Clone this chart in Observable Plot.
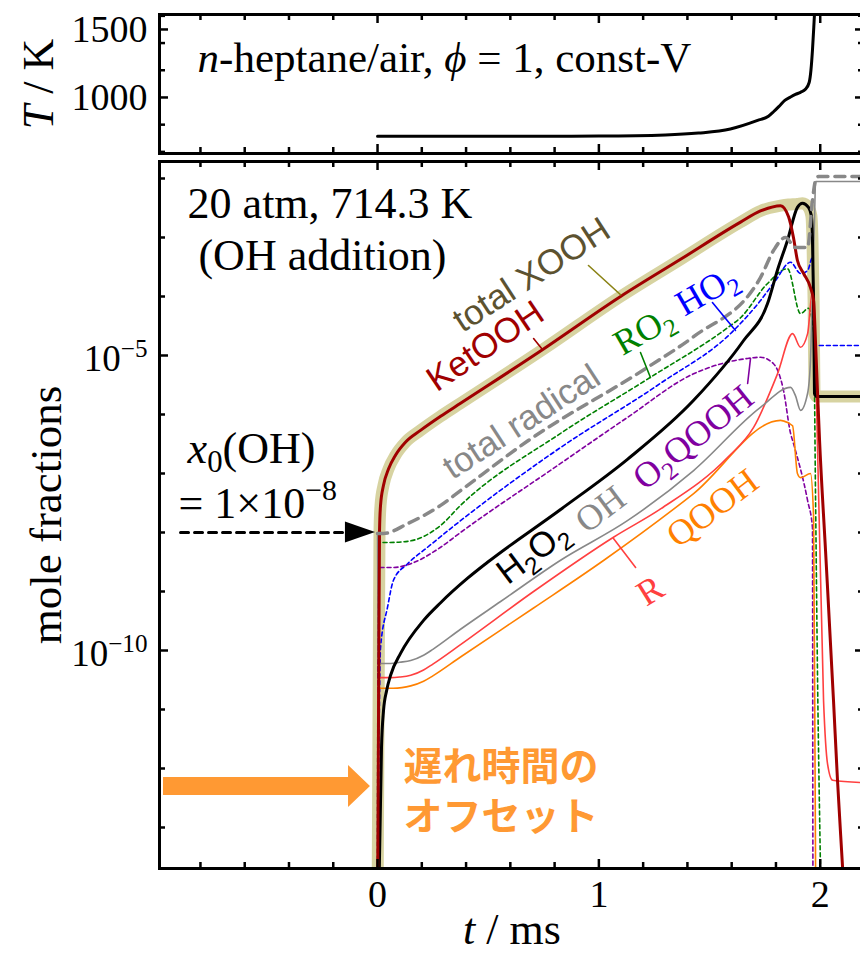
<!DOCTYPE html>
<html><head><meta charset="utf-8">
<script src="https://cdn.jsdelivr.net/npm/d3@7"></script>
<script src="https://cdn.jsdelivr.net/npm/@observablehq/plot@0.6"></script>
<style>
html,body{margin:0;padding:0;background:#fff;overflow:hidden;}
#chart{width:860px;height:953px;overflow:hidden;position:relative;background:#fff;}
#chart svg{display:block;max-width:none !important;}
</style></head><body><div id="chart"></div>
<script>
// ===== DATA (t in ms, values as log10 of mole fraction) =====
const totalXOOH = [[0,-14.5],[0.006,-10.0],[0.009,-7.97],[0.0136,-7.54],[0.027,-7.2],[0.05,-6.92],[0.081,-6.69],[0.126,-6.47],[0.194,-6.27],[0.285,-6.03],[0.375,-5.81],[0.75,-4.89],[1.098,-4.0],[1.369,-3.37],[1.64,-2.74],[1.73,-2.55],[1.821,-2.46],[1.857,-2.44],[1.897,-2.43],[1.92,-2.42],[1.947,-2.49],[1.96,-2.63],[1.965,-3.05],[1.97,-4.07],[1.974,-5.64],[1.983,-5.695],[2.2,-5.695]];
const ketOOH = [[0,-14.5],[0.006,-10.0],[0.009,-7.97],[0.0136,-7.54],[0.027,-7.2],[0.05,-6.92],[0.081,-6.69],[0.126,-6.47],[0.194,-6.27],[0.285,-6.03],[0.375,-5.81],[0.75,-4.89],[1.098,-4.0],[1.369,-3.37],[1.64,-2.74],[1.73,-2.55],[1.821,-2.46],[1.857,-2.65],[1.879,-3.0],[1.897,-3.39],[1.925,-3.61],[1.956,-3.85],[1.97,-4.07],[1.979,-4.8],[1.988,-5.64],[1.997,-6.44],[2.024,-8.31],[2.06,-10.85],[2.078,-12.2],[2.101,-13.68],[2.115,-14.6]];
const h2o2 = [[0.005,-14.5],[0.008,-13.7],[0.018,-11.64],[0.027,-11.02],[0.041,-10.68],[0.059,-10.42],[0.104,-10.05],[0.208,-9.49],[0.285,-9.19],[0.407,-8.775],[0.497,-8.505],[0.827,-7.61],[1.129,-6.76],[1.428,-5.76],[1.653,-4.75],[1.762,-4.12],[1.807,-3.55],[1.852,-3.05],[1.897,-2.49],[1.92,-2.42],[1.947,-2.49],[1.96,-2.63],[1.965,-3.05],[1.97,-4.07],[1.974,-5.64],[1.983,-5.695],[2.2,-5.695]];
const totalRadical = [[0,-8.017],[0.027,-8.017],[0.136,-7.85],[0.285,-7.54],[0.375,-7.29],[0.678,-6.45],[1.22,-5.2],[1.428,-4.68],[1.73,-3.68],[1.789,-3.22],[1.843,-3.0],[1.888,-3.17],[1.943,-3.17],[1.965,-2.37],[1.979,-2.03],[1.992,-1.966],[2.2,-1.966]];
const oh = [[0,-8.0],[0.003,-10.1],[0.0045,-10.22],[0.06,-10.22],[0.1,-10.2],[0.15,-10.17],[0.208,-10.08],[0.25,-9.98],[0.375,-9.64],[0.556,-9.17],[0.827,-8.47],[1.129,-7.8],[1.428,-6.95],[1.73,-5.88],[1.866,-5.54],[1.888,-5.68],[1.911,-5.93],[1.943,-5.64],[1.956,-5.08],[1.965,-3.95],[1.974,-2.71],[1.979,-2.05],[2.2,-2.05]];
const rRad = [[0,-14.5],[0.003,-10.9],[0.0045,-10.46],[0.06,-10.46],[0.1,-10.45],[0.15,-10.42],[0.208,-10.33],[0.25,-10.23],[0.375,-9.9],[0.705,-9.0],[1.066,-8.08],[1.279,-7.6],[1.581,-6.73],[1.699,-6.22],[1.807,-5.31],[1.875,-4.63],[1.911,-4.86],[1.943,-4.63],[1.965,-3.9],[1.983,-5.76],[2.015,-10.85],[2.033,-11.92],[2.056,-12.2],[2.2,-12.24]];
const qooh = [[0,-14.5],[0.003,-11.0],[0.0045,-10.64],[0.07,-10.64],[0.11,-10.63],[0.15,-10.6],[0.208,-10.52],[0.25,-10.43],[0.375,-10.11],[0.705,-9.28],[1.021,-8.475],[1.428,-7.34],[1.821,-6.1],[1.834,-6.11],[1.875,-6.19],[1.897,-7.0],[1.911,-7.07],[1.956,-7.0],[1.97,-7.75],[1.979,-13.7],[1.981,-14.6]];
const o2qooh = [[0,-14.5],[0.003,-9.0],[0.0045,-8.593],[0.072,-8.593],[0.163,-8.51],[0.285,-8.25],[0.375,-8.0],[0.827,-6.83],[1.129,-6.05],[1.428,-5.31],[1.672,-5.05],[1.73,-5.03],[1.789,-5.14],[1.834,-5.59],[1.866,-6.32],[1.879,-6.49],[1.943,-7.46],[1.965,-7.92],[1.967,-13.7],[1.968,-14.6]];
const ho2 = [[0,-14.5],[0.0136,-9.95],[0.045,-9.27],[0.072,-8.81],[0.136,-8.53],[0.226,-8.25],[0.375,-7.8],[0.827,-6.56],[1.279,-5.47],[1.608,-4.58],[1.73,-4.07],[1.798,-3.73],[1.866,-3.42],[1.911,-3.61],[1.943,-3.56],[1.965,-3.34],[1.97,-4.07],[1.974,-4.83],[2.2,-4.83]];
const ro2 = [[0,-14.5],[0.003,-8.3],[0.0045,-8.17],[0.045,-8.17],[0.136,-8.15],[0.285,-7.88],[0.375,-7.54],[0.827,-6.32],[1.233,-5.37],[1.581,-4.53],[1.64,-4.36],[1.762,-3.78],[1.852,-3.53],[1.911,-4.29],[1.947,-4.2],[1.97,-4.58],[1.979,-7.46],[1.988,-10.51],[2.001,-13.68],[2.005,-14.6]];
// temperature (t in ms, T in K)
const temperature = [[0,714],[0.6,714],[1.0,716],[1.3,724],[1.45,738],[1.594,768],[1.717,831],[1.766,862],[1.789,895],[1.82,945],[1.84,978],[1.866,1003],[1.888,1022],[1.911,1038],[1.933,1060],[1.95,1110],[1.958,1200],[1.965,1350],[1.972,1550],[1.98,1800],[2.0,2400],[2.2,2500]];

// ticks
const tDomain = [-0.985, 2.2];
const tMajor = [0, 1, 2];
const tMinor = [-0.8,-0.6,-0.4,-0.2,0.2,0.4,0.6,0.8,1.2,1.4,1.6,1.8];
const yMajorExp = [-5, -10];
const yMinorExp = [-2,-3,-4,-6,-7,-8,-9,-11,-12,-13];
const yDomainExp = [-13.695, -1.712];
const TDomain = [588, 1610];
const TMajor = [1000, 1500];
const TMinor = [600, 800, 1200, 1400, 1600];
const TLabels = [1000, 1500];

// curve labels: text, position (t, log10), rotation, colour, family
const curveLabels = [
  {text:"total XOOH", t:0.723, lg:-3.797, rot:-33, color:"#5c5230", fam:"sans"},
  {text:"KetOOH", t:0.515, lg:-5.0, rot:-34, color:"#a00000", fam:"sans"},
  {text:"total radical", t:0.678, lg:-6.288, rot:-33, color:"#888888", fam:"sans"},
  {text:"RO_{2}", t:1.229, lg:-4.746, rot:-30, color:"#008000", fam:"serif"},
  {text:"HO_{2}", t:1.513, lg:-4.068, rot:-30, color:"#0000ff", fam:"serif"},
  {text:"H_{2}O_{2}", t:0.732, lg:-8.492, rot:-37, color:"#000000", fam:"sans"},
  {text:"OH", t:1.039, lg:-7.763, rot:-37, color:"#888888", fam:"serif"},
  {text:"O_{2}QOOH", t:1.459, lg:-6.542, rot:-39, color:"#8000a0", fam:"serif"},
  {text:"QOOH", t:1.545, lg:-7.746, rot:-37, color:"#ff8000", fam:"serif"},
  {text:"R", t:1.26, lg:-9.153, rot:-32, color:"#ff4040", fam:"serif"}
];
// leader lines: [t1, lg1, t2, lg2, colour]
const leaders = [
  [0.953,-3.475,1.098,-3.97,"#8a8214"],
  [0.705,-4.712,0.745,-4.9,"#a00000"],
  [1.188,-4.949,1.233,-5.373,"#008000"],
  [1.513,-4.102,1.617,-4.576,"#0000ff"],
  [1.672,-5.475,1.685,-5.051,"#8000a0"],
  [1.066,-8.102,1.166,-8.593,"#ff4040"]
];
// annotation texts (start position t, log10 baseline)
const notes = [
  {text:"20 atm, 714.3 K", t:-0.858, lg:-2.678},
  {text:"(OH addition)", t:-0.809, lg:-3.559},
  {text:"*{x}_{0}(OH)", t:-0.858, lg:-6.814},
  {text:"= 1×10^{−8}", t:-0.899, lg:-7.746}
];
const jpNotes = [
  {text:"遅れ時間の", t:0.117, lg:-12.19},
  {text:"オフセット", t:0.117, lg:-13.05}
];
const topNote = {text:"*{n}-heptane/air, *{ϕ} = 1, const-V", t:-0.813, T:1184};
// arrow for x0(OH)
const x0Level = -8.0;
const x0Dash = [[-0.89, x0Level], [-0.145, x0Level]];
const x0Head = [{t:-0.145, h:0.178}, {t:-0.009, h:0}];
// orange offset arrow
const offLevel = -12.305;
const offArrow = [{t:-0.967, h:0.1525},{t:-0.131, h:0.1525},{t:-0.131, h:0.356},{t:-0.032, h:0}];

// ===== helpers =====
const SERIF = "Liberation Serif, Times New Roman, serif";
const SANS = "Liberation Sans, Arial, sans-serif";
const JP = "Noto Sans CJK JP, sans-serif";
const X = d => d[0], Y = d => 10 ** d[1];
const ln = (pts, o) => Plot.line(pts, {x: X, y: Y, curve: "monotone-x", clip: true, strokeLinejoin: "round", ...o});
const dotted = "4,3";

function richText(svg) {
  const NS = "http://www.w3.org/2000/svg";
  svg.querySelectorAll("text").forEach(el => {
    const s = el.textContent;
    if (!/[_^*]\{/.test(s)) return;
    const fs = parseFloat(getComputedStyle(el).fontSize) || 16;
    while (el.firstChild) el.removeChild(el.firstChild);
    const re = /([_^*])\{([^}]*)\}/g;
    let last = 0, m, cur = 0;
    const add = (txt, kind) => {
      if (!txt) return;
      const ts = document.createElementNS(NS, "tspan");
      let target = 0;
      if (kind === "_") { target = 0.22 * fs; ts.setAttribute("font-size", 0.7 * fs); }
      else if (kind === "^") { target = -0.4 * fs; ts.setAttribute("font-size", 0.68 * fs); }
      else if (kind === "*") { ts.setAttribute("font-style", "italic"); }
      const dy = target - cur;
      if (dy) ts.setAttribute("dy", dy);
      cur = target;
      ts.textContent = txt;
      el.appendChild(ts);
    };
    while ((m = re.exec(s))) { add(s.slice(last, m.index), ""); add(m[2], m[1]); last = re.lastIndex; }
    add(s.slice(last), "");
  });
}

const W = 866, ML = 159, MR = 2;
const frameW = W - ML - MR;
const tickMarks = (frameH, yMajorVals, yMinorVals, yAcc) => [
  Plot.tickX(tMajor, {x: d => d, stroke: "black", strokeWidth: 2.5, insetTop: frameH - 9}),
  Plot.tickX(tMinor, {x: d => d, stroke: "black", strokeWidth: 2.5, insetTop: frameH - 6}),
  Plot.tickX(tMajor, {x: d => d, stroke: "black", strokeWidth: 2.5, insetBottom: frameH - 9}),
  Plot.tickX(tMinor, {x: d => d, stroke: "black", strokeWidth: 2.5, insetBottom: frameH - 6}),
  Plot.tickY(yMajorVals, {y: yAcc, stroke: "black", strokeWidth: 2.5, insetRight: frameW - 9}),
  Plot.tickY(yMinorVals, {y: yAcc, stroke: "black", strokeWidth: 2.5, insetRight: frameW - 6}),
  Plot.tickY(yMajorVals, {y: yAcc, stroke: "black", strokeWidth: 2.5, insetLeft: frameW - 9}),
  Plot.tickY(yMinorVals, {y: yAcc, stroke: "black", strokeWidth: 2.5, insetLeft: frameW - 6}),
  Plot.frame({stroke: "black", strokeWidth: 3})
];

// ===== top panel =====
const topH = 157, topMT = 14, topMB = 4;
const topPlot = Plot.plot({
  width: W, height: topH, marginLeft: ML, marginRight: MR, marginTop: topMT, marginBottom: topMB,
  style: {maxWidth: "none", fontFamily: SERIF, background: "transparent"},
  x: {domain: tDomain, axis: null},
  y: {domain: TDomain, axis: null},
  marks: [
    Plot.line(temperature, {x: X, y: d => d[1], stroke: "black", strokeWidth: 3, curve: "monotone-x", clip: true}),
    Plot.text([topNote], {x: "t", y: "T", text: "text", textAnchor: "start", lineAnchor: "bottom", fontSize: 43, fontFamily: SERIF, fill: "black"}),
    Plot.text(TLabels, {y: d => d, text: d => String(d), frameAnchor: "left", dx: -12, textAnchor: "end", lineAnchor: "middle", fontSize: 38, fontFamily: SERIF, fill: "black"}),
    Plot.text(["*{T} / K"], {text: d => d, frameAnchor: "left", dx: -107, rotate: -90, textAnchor: "middle", lineAnchor: "bottom", fontSize: 44, fontFamily: SERIF, fill: "black"}),
    ...tickMarks(topH - topMT - topMB, TMajor, TMinor, d => d)
  ]
});

// ===== bottom panel =====
const botH = 796, botMT = 4, botMB = 85;
const bottomPlot = Plot.plot({
  width: W, height: botH, marginLeft: ML, marginRight: MR, marginTop: botMT, marginBottom: botMB,
  style: {maxWidth: "none", fontFamily: SERIF, background: "transparent"},
  x: {domain: tDomain, axis: null},
  y: {type: "log", domain: yDomainExp.map(e => 10 ** e), axis: null},
  marks: [
    ln(totalXOOH, {stroke: "#d7d3a1", strokeWidth: 12}),
    ln(ro2, {stroke: "#008000", strokeWidth: 1.6, strokeDasharray: dotted}),
    ln(ho2, {stroke: "#0000ff", strokeWidth: 1.6, strokeDasharray: dotted}),
    ln(o2qooh, {stroke: "#8000a0", strokeWidth: 1.6, strokeDasharray: dotted}),
    ln(qooh, {stroke: "#ff8000", strokeWidth: 1.6}),
    ln(rRad, {stroke: "#ff4040", strokeWidth: 1.6}),
    ln(oh, {stroke: "#888888", strokeWidth: 1.6}),
    ln(h2o2, {stroke: "black", strokeWidth: 3}),
    ln(ketOOH, {stroke: "#a00000", strokeWidth: 3}),
    ln(totalRadical, {stroke: "#888888", strokeWidth: 3.5, strokeDasharray: "10,7"}),
    ...leaders.map(([t1, l1, t2, l2, c]) => Plot.line([[t1, l1], [t2, l2]], {x: X, y: Y, stroke: c, strokeWidth: 1.6})),
    ...curveLabels.map(L => Plot.text([L], {x: "t", y: d => 10 ** d.lg, text: "text", rotate: L.rot, textAnchor: "middle", lineAnchor: "bottom", fill: L.color, fontSize: L.fam === "sans" ? 35 : 36, fontFamily: L.fam === "sans" ? SANS : SERIF})),
    Plot.line(x0Dash, {x: X, y: Y, stroke: "black", strokeWidth: 3, strokeDasharray: "8,6"}),
    Plot.areaY(x0Head, {x: "t", y1: d => 10 ** (x0Level - d.h), y2: d => 10 ** (x0Level + d.h), fill: "black"}),
    Plot.areaY(offArrow, {x: "t", y1: d => 10 ** (offLevel - d.h), y2: d => 10 ** (offLevel + d.h), fill: "#ff9933"}),
    Plot.text(jpNotes, {x: "t", y: d => 10 ** d.lg, text: "text", textAnchor: "start", lineAnchor: "bottom", fontSize: 39, fontWeight: "bold", fontFamily: JP, fill: "#ff9933"}),
    Plot.text(notes, {x: "t", y: d => 10 ** d.lg, text: "text", textAnchor: "start", lineAnchor: "bottom", fontSize: 44, fontFamily: SERIF, fill: "black"}),
    ...tickMarks(botH - botMT - botMB, yMajorExp.map(e => 10 ** e), yMinorExp.map(e => 10 ** e), d => d),
    Plot.text(yMajorExp, {y: e => 10 ** e, text: e => `10^{−${-e}}`, frameAnchor: "left", dx: -12, dy: 16, textAnchor: "end", lineAnchor: "bottom", fontSize: 37, fontFamily: SERIF, fill: "black"}),
    Plot.text(tMajor, {x: d => d, text: d => String(d), frameAnchor: "bottom", dy: 38, lineAnchor: "bottom", fontSize: 38, fontFamily: SERIF, fill: "black"}),
    Plot.text(["*{t} / ms"], {text: d => d, frameAnchor: "bottom", dy: 75, textAnchor: "middle", lineAnchor: "bottom", fontSize: 44, fontFamily: SERIF, fill: "black"}),
    Plot.text(["mole fractions"], {text: d => d, frameAnchor: "left", dx: -99, rotate: -90, textAnchor: "middle", lineAnchor: "bottom", fontSize: 45, fontFamily: SERIF, fill: "black"})
  ]
});

const chart = document.getElementById("chart");
chart.appendChild(topPlot);
chart.appendChild(bottomPlot);
richText(topPlot);
richText(bottomPlot);
</script>
</body></html>
